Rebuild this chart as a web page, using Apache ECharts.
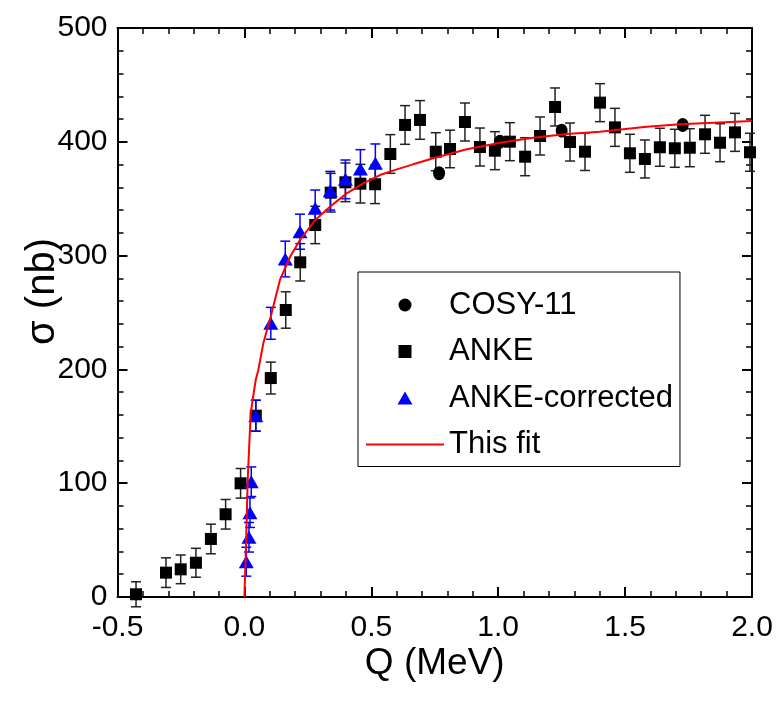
<!DOCTYPE html>
<html><head><meta charset="utf-8">
<script src="https://cdn.jsdelivr.net/npm/echarts@6/dist/echarts.min.js"></script>
<style>html,body{margin:0;padding:0;background:#fff}#c{width:776px;height:704px}</style>
</head><body><div id="c"></div>
<script>
const FONT = '"Liberation Sans",Arial,sans-serif';

// ANKE (squares)
const ankeQ = [-0.427,-0.309,-0.251,-0.191,-0.132,-0.074,-0.015,0.045,0.104,0.163,0.220,0.279,0.340,0.398,0.457,0.515,0.575,0.633,0.692,0.754,0.810,0.869,0.928,0.987,1.046,1.106,1.165,1.224,1.283,1.342,1.401,1.460,1.519,1.578,1.637,1.696,1.755,1.815,1.874,1.933,1.992];
const ankeSigma = [2.4,21.4,24.3,30.1,51.0,72.7,99.9,159.3,192.4,252.2,294.1,326.9,355.3,364.4,363.2,362.7,389.3,414.8,419.2,391.3,393.7,417.4,395.4,392.2,400.1,386.9,405.1,430.6,399.8,391.3,434.4,412.7,389.9,384.9,395.2,394.3,394.8,406.6,399.2,408.3,390.8];
const ankeErr = [11,13,12.6,12.7,13,13,13,13.6,14,16,16.4,16.4,17,17,17,17,17,17,17,16.7,16.5,16.7,16.7,16.7,16.7,16.7,16.7,16.7,16.7,16.5,16.7,16.7,16.7,16.7,16.7,16.7,16.7,16.7,16.7,16.7,16.7];

// ANKE-corrected (triangles)
const corrQ = [0.0075,0.018,0.022,0.027,0.045,0.104,0.161,0.219,0.279,0.338,0.398,0.457,0.516];
const corrSigma = [31.0,52.5,74.1,101.3,159.3,240.5,297.0,321.0,341.6,357.0,367.0,376.1,381.1];
const corrErr = [12.7,13,13,13,13.6,14,15.7,15.4,16,17,17,17,17];

// COSY-11 (circles)
const cosyQ = [0.767,1.007,1.250,1.727];
const cosySigma = [372.3,400.1,409.8,414.8];

// This fit (red line)
const fitQ = [0,0.0063,0.013,0.0248,0.0445,0.0548,0.0745,0.1036,0.140,0.180,0.219,0.279,0.337,0.403,0.468,0.534,0.600,0.665,0.744,0.876,1.007,1.138,1.270,1.401,1.585,1.716,1.848,1.999];
const fitSigma = [0,44.2,102.8,161.7,190.7,199.5,222.9,246.3,278.6,299.0,313.7,331.3,343.0,354.7,363.5,370.8,375.8,380.2,385.5,393.4,399.2,403.6,406.9,408.9,413.3,415.4,416.8,418.3];

const xTicks = ['-0.5','0.0','0.5','1.0','1.5','2.0'];
const yTicks = ['0','100','200','300','400','500'];

function errSeries(name, q, s, e, color) {
  return {
    type: 'custom', name: name, silent: true, z: 2,
    data: q.map((x, i) => [x, s[i] - e[i], s[i] + e[i]]),
    encode: { x: 0, y: [1, 2] },
    renderItem: function (params, api) {
      const x = api.value(0);
      const lo = api.coord([x, api.value(1)]);
      const hi = api.coord([x, api.value(2)]);
      const hw = 5;
      const st = { stroke: color, lineWidth: 1.5 };
      return { type: 'group', children: [
        { type: 'line', shape: { x1: lo[0], y1: lo[1], x2: hi[0], y2: hi[1] }, style: st },
        { type: 'line', shape: { x1: lo[0] - hw, y1: lo[1], x2: lo[0] + hw, y2: lo[1] }, style: st },
        { type: 'line', shape: { x1: hi[0] - hw, y1: hi[1], x2: hi[0] + hw, y2: hi[1] }, style: st }
      ]};
    }
  };
}

const axisCommon = {
  axisLine: { show: true, onZero: false, lineStyle: { color: '#000', width: 2 } },
  axisTick: { show: true, inside: true, length: 10, lineStyle: { color: '#000', width: 2 } },
  minorTick: { show: true, splitNumber: 5, length: 6, lineStyle: { color: '#000', width: 1.5 } },
  splitLine: { show: false },
  minorSplitLine: { show: false }
};

const chart = echarts.init(document.getElementById('c'), null, { renderer: 'canvas' });
chart.setOption({
  animation: false,
  backgroundColor: '#fff',
  grid: { left: 117.5, top: 28, right: 24, bottom: 107, containLabel: false, outerBoundsMode: 'none' },
  xAxis: [
    Object.assign({}, axisCommon, {
      type: 'value', min: -0.5, max: 2.0, interval: 0.5, position: 'bottom',
      name: 'Q (MeV)', nameLocation: 'middle', nameGap: 48, nameMoveOverlap: false,
      nameTextStyle: { fontFamily: FONT, fontSize: 37, color: '#000' },
      axisLabel: { show: true, margin: 16, fontFamily: FONT, fontSize: 30, color: '#000',
        formatter: (v) => xTicks[Math.round((v + 0.5) / 0.5)] }
    }),
    Object.assign({}, axisCommon, {
      type: 'value', min: -0.5, max: 2.0, interval: 0.5, position: 'top',
      axisLabel: { show: false }
    })
  ],
  yAxis: [
    Object.assign({}, axisCommon, {
      type: 'value', min: 0, max: 500, interval: 100, position: 'left',
      name: 'σ (nb)', nameLocation: 'middle', nameGap: 55, nameRotate: 90, nameMoveOverlap: false,
      nameTextStyle: { fontFamily: FONT, fontSize: 40, color: '#000', padding: [0, 0, 0, 42] },
      axisLabel: { show: true, margin: 10, fontFamily: FONT, fontSize: 30, color: '#000',
        formatter: (v) => yTicks[Math.round(v / 100)] }
    }),
    Object.assign({}, axisCommon, {
      type: 'value', min: 0, max: 500, interval: 100, position: 'right',
      axisLabel: { show: false }
    })
  ],
  legend: {
    data: [
      { name: 'COSY-11', icon: 'path://M0.5,0A0.5,0.5,0,1,1,0.4999,0Z' },
      { name: 'ANKE', icon: 'path://M0,0L1,0L1,1L0,1Z' },
      { name: 'ANKE-corrected', icon: 'path://M0.5,0L1,0.87L0,0.87Z' },
      { name: 'This fit', icon: 'path://M0,0L70,0L70,2L0,2Z' }
    ],
    orient: 'vertical', left: 358, top: 272,
    itemWidth: 78, itemHeight: 13, itemGap: 12.5,
    symbolKeepAspect: true,
    padding: [16, 7, 5, 8],
    borderColor: '#000', borderWidth: 1, backgroundColor: '#fff',
    selectedMode: false,
    textStyle: { fontFamily: FONT, fontSize: 31, color: '#000', lineHeight: 34 }
  },
  series: [
    errSeries('errAnke', ankeQ, ankeSigma, ankeErr, '#222'),
    errSeries('errCorr', corrQ, corrSigma, corrErr, '#0000ff'),
    { type: 'scatter', name: 'ANKE', symbol: 'rect', symbolSize: 12, z: 3,
      itemStyle: { color: '#000', opacity: 1 },
      data: ankeQ.map((x, i) => [x, ankeSigma[i]]) },
    { type: 'scatter', name: 'COSY-11', symbol: 'circle', symbolSize: [12, 14], z: 3,
      itemStyle: { color: '#000', opacity: 1 },
      data: cosyQ.map((x, i) => [x, cosySigma[i]]) },
    { type: 'scatter', name: 'ANKE-corrected', symbol: 'triangle', symbolSize: [15, 13], z: 4,
      itemStyle: { color: '#0000ff', opacity: 1 },
      data: corrQ.map((x, i) => [x, corrSigma[i]]) },
    { type: 'line', name: 'This fit', symbol: 'none', showSymbol: false, z: 5,
      lineStyle: { color: '#ff0000', width: 2 }, itemStyle: { color: '#ff0000' },
      data: fitQ.map((x, i) => [x, fitSigma[i]]) }
  ]
});
</script></body></html>
